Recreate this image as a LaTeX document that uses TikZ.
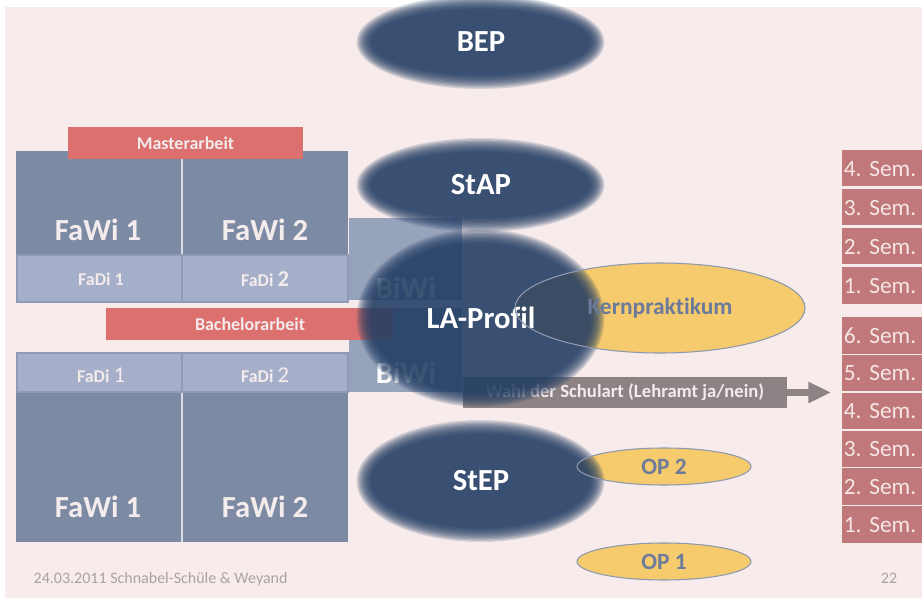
\documentclass[tikz,border=0pt]{standalone}
\usepackage{fontspec}
\setmainfont{Carlito}[Ligatures=NoCommon]
\usepackage{tikz}
\usetikzlibrary{arrows.meta,shapes.geometric}

\definecolor{slidebg}{RGB}{247,235,235}
\definecolor{fawicol}{RGB}{125,138,163}
\definecolor{fadicol}{RGB}{165,175,202}
\definecolor{fadiline}{RGB}{143,154,181}
\definecolor{biwicol}{RGB}{151,163,187}
\definecolor{arbeitcol}{RGB}{219,112,111}
\definecolor{labelcol}{RGB}{244,236,236}
\definecolor{blobcol}{RGB}{34,63,100}
\definecolor{opcol}{RGB}{246,203,109}
\definecolor{opline}{RGB}{142,153,176}
\definecolor{optext}{RGB}{108,122,155}
\definecolor{wahlcol}{RGB}{141,131,133}
\definecolor{semcol}{RGB}{192,120,123}
\definecolor{semtext}{RGB}{246,230,230}
\definecolor{footcol}{RGB}{171,163,163}

\frenchspacing
\begin{document}
\begin{tikzpicture}[x=0.75pt,y=-0.75pt,
	bigtxt/.style={text=labelcol,font=\fontsize{23}{25}\selectfont\bfseries},
	blobtxt/.style={text=white,font=\fontsize{23}{25}\selectfont\bfseries},
	smalltxt/.style={text=labelcol,font=\fontsize{13.5}{15}\selectfont\bfseries},
	opnode/.style={ellipse,draw=opline,line width=0.8pt,text=optext,inner sep=0pt,
		font=\fontsize{17.5}{19}\selectfont\bfseries},
	sembox/.style={anchor=north west,fill=semcol,text=semtext,minimum height=27.4pt,
		text width=58pt,inner xsep=1.2pt,align=left,font=\fontsize{17.5}{19}\selectfont},
	foot/.style={text=footcol,font=\fontsize{12}{14}\selectfont}]

	\useasboundingbox (0,0) rectangle (922,600);
	\fill[white] (0,0) rectangle (922,600);
	\fill[slidebg] (5,7) rectangle (922,598);

%	==================== Master ====================
	\fill[fawicol] (16,151) rectangle (348,268);
	\draw[white!70!fawicol,line width=0.8pt] (182,151) -- (182,255);
	\fill[biwicol] (349,218) rectangle (462,300);
	\foreach \a/\b in {17/182,182/348}
		\draw[fadiline,fill=fadicol,line width=1.2pt] (\a,255) rectangle (\b,302);
	\fill[arbeitcol] (68,127) rectangle (303,159);
	\node[smalltxt] (master) at (185.5,143) {Masterarbeit};
	\node[bigtxt] (fawiMa) at (98,230) {FaWi 1};
	\node[bigtxt] (fawiMb) at (265,230) {FaWi 2};
	\node[smalltxt] (fadiMa) at (101,279) {FaDi 1};
	\node[smalltxt] (fadiMb) at (265,279) {FaDi {\fontsize{17}{19}\selectfont 2}};
	\node[bigtxt,text=white] (biwiM) at (406,288) {BiWi};

%	==================== Bachelor ====================
	\fill[biwicol] (349,308) rectangle (462,392);
	\fill[arbeitcol] (106,308) rectangle (393,340);
	\node[smalltxt] (bachelor) at (250,324) {Bachelorarbeit};
	\fill[fawicol] (16,392) rectangle (348,542);
	\draw[white!70!fawicol,line width=0.8pt] (182,392) -- (182,542);
	\foreach \a/\b in {17/182,182/348}
		\draw[fadiline,fill=fadicol,line width=1.2pt] (\a,353) rectangle (\b,392);
	\node[smalltxt] (fadiBa) at (101,375) {FaDi {\fontsize{17}{19}\selectfont\mdseries 1}};
	\node[smalltxt] (fadiBb) at (265,375) {FaDi {\fontsize{17}{19}\selectfont\mdseries 2}};
	\node[bigtxt] (fawiBa) at (98,507) {FaWi 1};
	\node[bigtxt] (fawiBb) at (265,507) {FaWi 2};
	\node[bigtxt,text=white] (biwiB) at (406,373) {BiWi};

%	==================== Praktika ====================
	\fill[opcol] (660,308) ellipse [x radius=145, y radius=45];
	\fill[opcol] (664,466.5) ellipse [x radius=87, y radius=18.5];
	\fill[opcol] (664,561.5) ellipse [x radius=87, y radius=18.5];

	\node[fill=wahlcol,text=labelcol,minimum width=243pt,minimum height=23.25pt,
		font=\fontsize{14}{16}\selectfont\bfseries] (wahl) at (625,392.5)
		{Wahl der Schulart (Lehramt ja/nein)};
	\coordinate (wahlend) at (831,392.5);
	\draw[wahlcol,line width=5pt,-{Triangle[length=17pt,width=15pt]}] (wahl.east) -- (wahlend);

%	==================== Profile (soft) ====================
	\foreach \by/\bry in {42/40,185/40,318/82,481/54}{
		\foreach \s in {0,...,11}{
			\pgfmathsetmacro\rx{124-1.3*\s}
			\pgfmathsetmacro\rr{\bry+7-1.3*\s}
			\fill[blobcol,opacity=0.16] (480.5,\by) ellipse [x radius=\rx, y radius=\rr];
		}
	}
	\node[blobtxt] (bep) at (481,42) {BEP};
	\node[blobtxt] (stap) at (481,185) {StAP};
	\node[blobtxt] (laprofil) at (481,318) {LA-Profil};
	\node[blobtxt] (step) at (481,481) {StEP};

	\node[opnode,minimum width=217.5pt,minimum height=67.5pt,
		font=\fontsize{17.6}{19}\selectfont\bfseries] (kern) at (660,308) {Kernpraktikum};
	\node[opnode,minimum width=130.5pt,minimum height=27.75pt] (opzwei) at (664,466.5) {OP 2};
	\node[opnode,minimum width=130.5pt,minimum height=27.75pt] (opeins) at (664,561.5) {OP 1};

%	==================== Semester ====================
	\foreach \n [count=\i from 0] in {4,3,2,1}
		\node[sembox] (semM\n) at (842,{150+39*\i}) {\n. Sem.};
	\foreach \n [count=\i from 0] in {6,5,4,3,2,1}
		\node[sembox] (semB\n) at (842,{317+37.8*\i}) {\n. Sem.};
	\foreach \y in {187,226,265,354.3,392.1,429.9,467.7,505.5}
		\draw[slidebg,line width=1pt] (842,\y) -- (922,\y);

	\node[foot,anchor=west] (datum) at (29,579) {24.03.2011 Schnabel-Schüle \& Weyand};
	\node[foot] (seite) at (889,578) {22};
\end{tikzpicture}
\end{document}
